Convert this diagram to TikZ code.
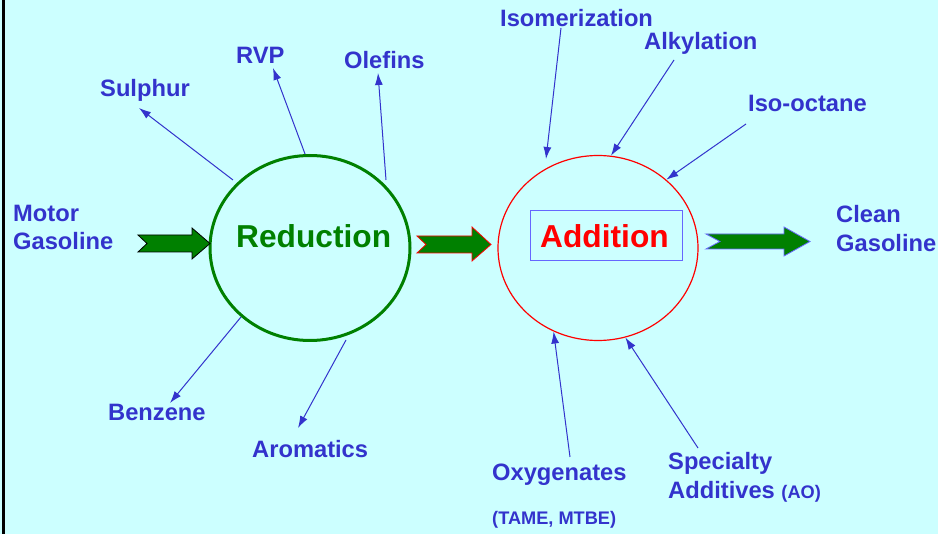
\documentclass[tikz,border=0pt]{standalone}
\usepackage{fontspec}
\setmainfont{Liberation Sans}
\usetikzlibrary{arrows.meta,shapes.geometric}
\definecolor{bgcyan}{HTML}{CCFFFF}
\definecolor{lblblue}{HTML}{3333CC}
\definecolor{boxblue}{HTML}{6666FF}
\definecolor{dgreen}{HTML}{008000}
\tikzset{
  lbl/.style={anchor=base west,inner sep=0pt,text=lblblue,font=\fontsize{23.7}{28}\selectfont\bfseries},
  smalllbl/.style={anchor=base west,inner sep=0pt,text=lblblue,font=\fontsize{18.2}{22}\selectfont\bfseries},
  thin arrow/.style={draw=lblblue,line width=1pt,-{Latex[length=12pt,width=8pt]}},
  big text/.style={inner sep=0pt,anchor=base west,font=\fontsize{31.7}{36}\selectfont\bfseries},
  oval/.style={ellipse,minimum width=200pt,minimum height=185pt,inner sep=0pt}
}
\begin{document}
\begin{tikzpicture}[x=1pt,y=-1pt]
\useasboundingbox (0,0) rectangle (938,534);
\fill[bgcyan] (0,0) rectangle (938,534);
\draw[black,line width=3pt] (3.5,0) -- (3.5,534);

% process ovals
\node[oval,draw=dgreen,line width=3pt] (red) at (310,248) {};
\node[oval,draw=red,line width=1.2pt] (add) at (598,248) {};
\node[big text,text=dgreen] (redtxt) at (236,248) {Reduction};
\node[draw=boxblue,line width=1pt,minimum width=152pt,minimum height=50pt,inner sep=0pt] (addbox) at (606,236) {};
\node[big text,text=red] (addtxt) at (540,248) {Addition};

% block arrows
\fill[dgreen,draw=black,line width=0.8pt] (138,235) -- (147,243.5) -- (138,252) -- (192,252) -- (192,259) -- (210,243.5) -- (192,228) -- (192,235) -- cycle;
\fill[dgreen,draw=red,line width=0.8pt] (417,236) -- (426,244.5) -- (417,253) -- (472,253) -- (472,261) -- (491,244.5) -- (472,227) -- (472,236) -- cycle;
\fill[dgreen,draw=boxblue,line width=0.8pt] (706,234) -- (720,241.5) -- (706,249) -- (784,249) -- (784,256) -- (810,241.5) -- (784,227) -- (784,234) -- cycle;

% labels
\node[lbl] (motor) at (13,222) {Motor};
\node[lbl] (gas1) at (13,250) {Gasoline};
\node[lbl] (sulphur) at (100,97) {Sulphur};
\node[lbl] (rvp) at (236,64) {RVP};
\node[lbl] (olefins) at (344,69) {Olefins};
\node[lbl] (benzene) at (108,421) {Benzene};
\node[lbl] (aromatics) at (252,458) {Aromatics};
\node[lbl] (isom) at (500,27) {Isomerization};
\node[lbl] (alky) at (644,50) {Alkylation};
\node[lbl] (isooct) at (748,112) {Iso-octane};
\node[lbl] (clean) at (836,223) {Clean};
\node[lbl] (gas2) at (836,252) {Gasoline};
\node[lbl] (oxy) at (492,481) {Oxygenates};
\node[smalllbl] (tame) at (492,525) {(TAME, MTBE)};
\node[lbl] (spec) at (668,470) {Specialty};
\node[lbl] (addit) at (668,499) {Additives {\fontsize{18.2}{22}\selectfont(AO)}};

% connector end points
\coordinate (sulS) at (233,180);
\coordinate (sulE) at (139,108);
\coordinate (rvpE) at (273,68);
\coordinate (olS) at (386,180);
\coordinate (olE) at (378,73);
\coordinate (benE) at (170,403);
\coordinate (aroS) at (346,340);
\coordinate (aroE) at (298,428);
\coordinate (isoS) at (561,28);
\coordinate (isoE) at (546,159);
\coordinate (alkS) at (674,60);
\coordinate (iocS) at (746,124);
\coordinate (oxyS) at (570,457);
\coordinate (spcS) at (698,448);

\draw[thin arrow] (sulS) -- (sulE);
\draw[thin arrow] (red.93) -- (rvpE);
\draw[thin arrow] (olS) -- (olE);
\draw[thin arrow] (red.225) -- (benE);
\draw[thin arrow] (aroS) -- (aroE);
\draw[thin arrow] (isoS) -- (isoE);
\draw[thin arrow] (alkS) -- (add.82.6);
\draw[thin arrow] (iocS) -- (add.45);
\draw[thin arrow] (oxyS) -- (add.242.9);
\draw[thin arrow] (spcS) -- (add.287.3);
\end{tikzpicture}
\end{document}
